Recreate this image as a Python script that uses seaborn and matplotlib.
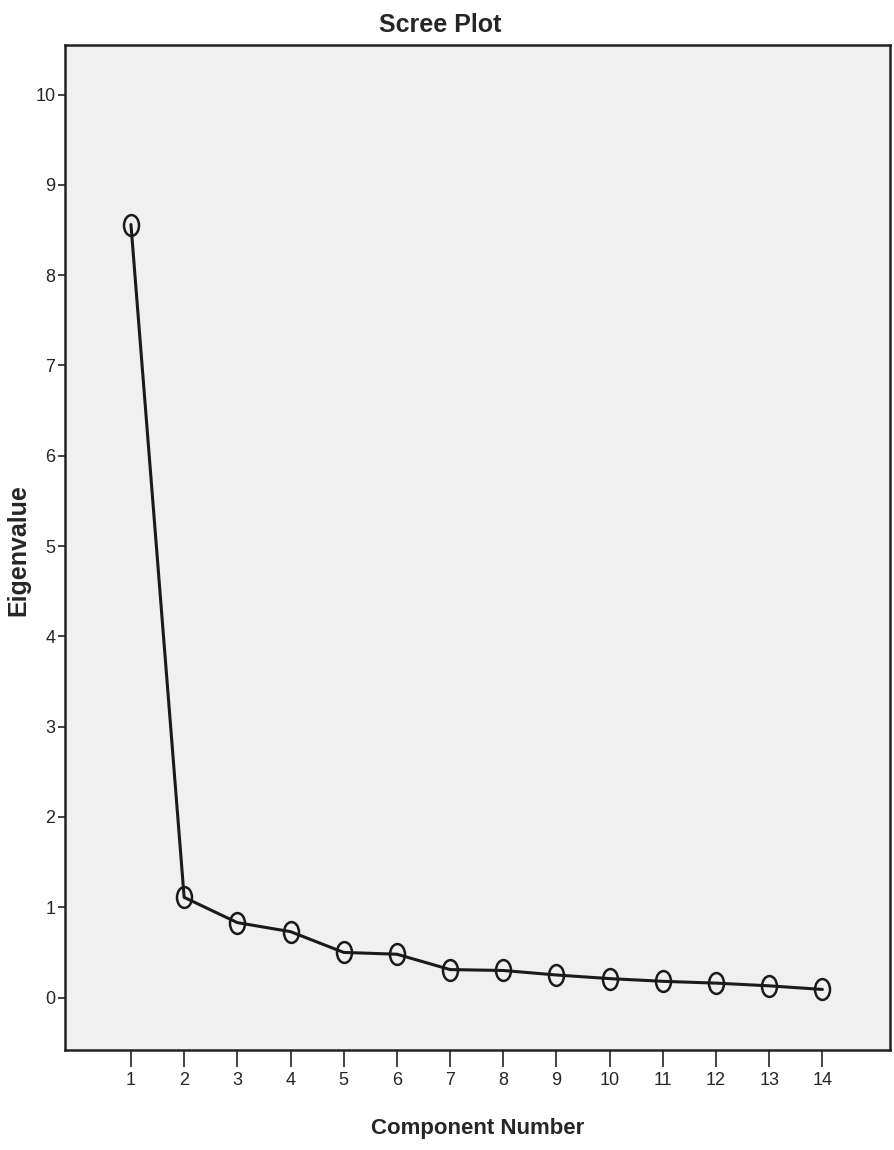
import matplotlib
matplotlib.use("Agg")
import matplotlib.pyplot as plt
import seaborn as sns
import numpy as np
import pandas as pd
from matplotlib.path import Path

components = list(range(1, 15))
eigenvalues = [8.56, 1.11, 0.83, 0.73, 0.50, 0.48, 0.31, 0.30, 0.25, 0.21, 0.18, 0.16, 0.13, 0.09]
y_ticks = list(range(0, 11))

sns.set_theme(style="white")
plt.rcParams['font.family'] = ['Liberation Sans', 'DejaVu Sans']

df = pd.DataFrame({"Component Number": components, "Eigenvalue": eigenvalues})

fig = plt.figure(figsize=(8.94, 11.5), dpi=100)
ax = fig.add_axes([0.0727, 0.087, 0.9228, 0.874])
ax.set_facecolor("#f0f0f0")

circ = Path.unit_circle()
ell = Path(circ.vertices * np.array([0.72, 1.0]), circ.codes)

sns.lineplot(data=df, x="Component Number", y="Eigenvalue", ax=ax,
             color="#1a1a1a", linewidth=2.2, marker=ell, markersize=15,
             markerfacecolor="none", markeredgecolor="#1a1a1a", markeredgewidth=1.8)

ax.set_xlim(-0.24, 15.27)
ax.set_ylim(-0.58, 10.55)
ax.set_xticks(components)
ax.set_yticks(y_ticks)
ax.tick_params(axis="x", length=12, width=1.2, color="#222222", labelsize=13, pad=4, direction="out", bottom=True)
ax.tick_params(axis="y", length=5, width=1.2, color="#222222", labelsize=13, pad=2, direction="out", left=True)
for s in ax.spines.values():
    s.set_color("#222222")
    s.set_linewidth(1.8)

ax.set_title("Scree Plot", fontsize=18, fontweight="bold", pad=9, x=0.4545)
ax.set_xlabel("Component Number", fontsize=16, fontweight="bold")
ax.set_ylabel("Eigenvalue", fontsize=18, fontweight="bold")
ax.yaxis.set_label_coords(-0.042, 0.4975)
ax.xaxis.set_label_coords(0.5, -0.068)

fig.savefig("out.png", dpi=100)
